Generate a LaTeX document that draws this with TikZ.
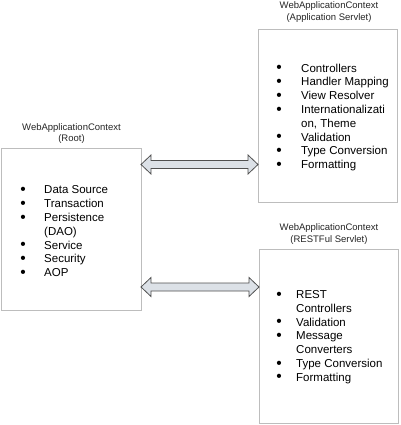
\documentclass[tikz,border=0pt]{standalone}
\usepackage{fontspec}
\setmainfont{Liberation Sans}
\usetikzlibrary{calc}
\definecolor{boxgray}{HTML}{BDBDBD}
\definecolor{arrowfill}{HTML}{DCE1E7}
\definecolor{arrowline}{HTML}{505050}
\newcommand\bul{\makebox[0pt]{\raisebox{-0.6pt}{\scalebox{1.35}{\textbullet}}}}
\begin{document}
\begin{tikzpicture}[x=1pt,y=-1pt,
  ctxbox/.style={draw=boxgray, line width=0.8pt, fill=white, inner sep=0pt, outer sep=0pt},
  ctxtitle/.style={align=center, inner sep=0pt, font=\fontsize{9.5}{11.4}\selectfont, text=black!85},
  ctxlist/.style={align=left, inner sep=0pt, anchor=west, font=\fontsize{11.5}{13.8}\selectfont},
  fatarrow/.style={draw=arrowline, fill=arrowfill, line width=0.8pt, line join=miter}]
\useasboundingbox (0,0) rectangle (400,425);
\fill[white] (0,0) rectangle (400,425);

% boxes
\node[ctxbox, minimum width=140pt, minimum height=162pt] (root) at (71,229) {};
\node[ctxbox, minimum width=139pt, minimum height=173pt] (app) at (327.5,115.5) {};
\node[ctxbox, minimum width=139pt, minimum height=174pt] (rest) at (328.5,336) {};

% titles
\node[ctxtitle] (rootT) at (71.5,133.5) {WebApplicationContext\\(Root)};
\node[ctxtitle] (appT) at (329,12) {WebApplicationContext\\(Application Servlet)};
\node[ctxtitle] (restT) at (329,234) {WebApplicationContext\\(RESTFul Servlet)};

% lists
\node[ctxlist] (rootL) at (23,231.5) {%
\bul\hspace{21pt}Data Source\\
\bul\hspace{21pt}Transaction\\
\bul\hspace{21pt}Persistence\\
\hspace{21pt}(DAO)\\
\bul\hspace{21pt}Service\\
\bul\hspace{21pt}Security\\
\bul\hspace{21pt}AOP};

\node[ctxlist] (appL) at (279,117.5) {%
\bul\hspace{22pt}Controllers\\
\bul\hspace{22pt}Handler Mapping\\
\bul\hspace{22pt}View Resolver\\
\bul\hspace{22pt}Internationalizati\\
\hspace{22pt}on, Theme\\
\bul\hspace{22pt}Validation\\
\bul\hspace{22pt}Type Conversion\\
\bul\hspace{22pt}Formatting};

\node[ctxlist] (restL) at (279,337) {%
\bul\hspace{17pt}REST\\
\hspace{17pt}Controllers\\
\bul\hspace{17pt}Validation\\
\bul\hspace{17pt}Message\\
\hspace{17pt}Converters\\
\bul\hspace{17pt}Type Conversion\\
\bul\hspace{17pt}Formatting};

% arrow end points
\coordinate (a1) at (root.east |- 0,164.5);
\coordinate (b1) at (app.west |- 0,164.5);
\coordinate (a2) at (root.east |- 0,287);
\coordinate (b2) at (rest.west |- 0,287);

\draw[fatarrow] (a1) -- ++(10,-9.5) -- ++(0,5.5) -- ($(b1)+(-10,-4)$) -- ++(0,-5.5)
  -- (b1) -- ++(-10,9.5) -- ++(0,-5.5) -- ($(a1)+(10,4)$) -- ++(0,5.5) -- cycle;
\draw[fatarrow] (a2) -- ++(10,-9.5) -- ++(0,5.5) -- ($(b2)+(-10,-4)$) -- ++(0,-5.5)
  -- (b2) -- ++(-10,9.5) -- ++(0,-5.5) -- ($(a2)+(10,4)$) -- ++(0,5.5) -- cycle;
\end{tikzpicture}
\end{document}
